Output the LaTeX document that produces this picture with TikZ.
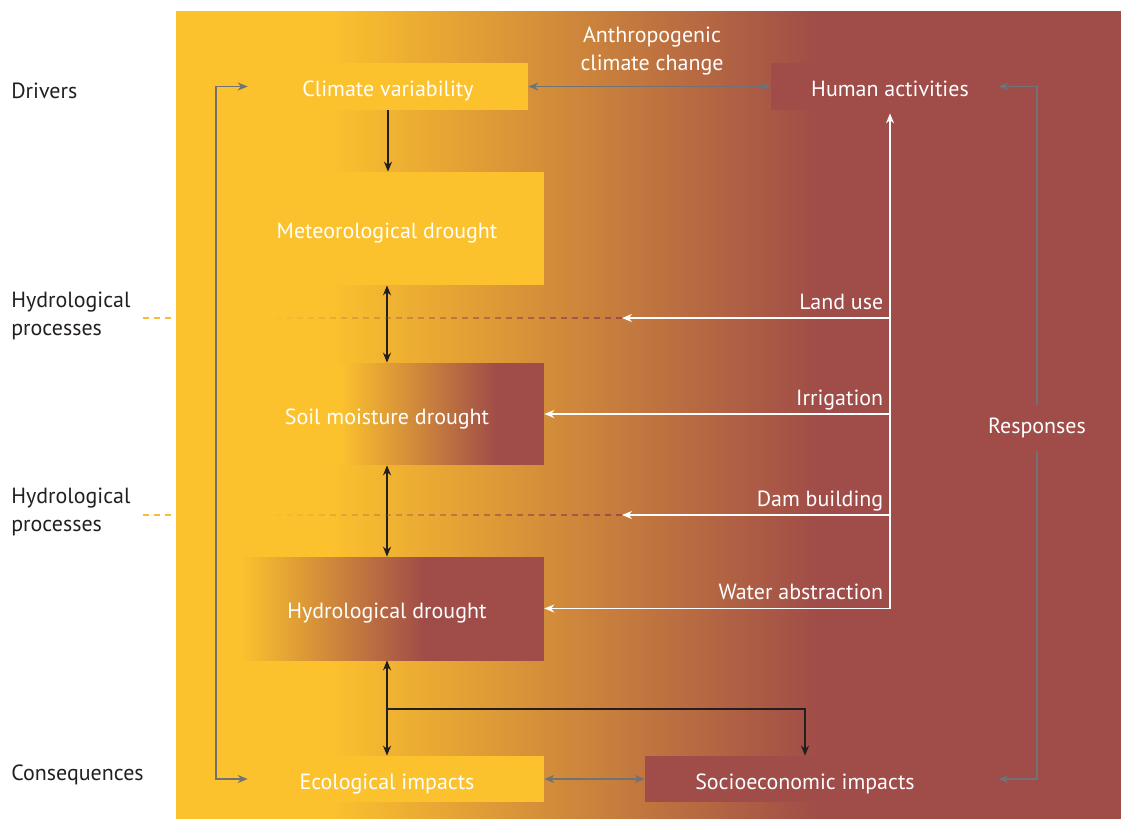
\documentclass[tikz,border=0pt]{standalone}
\usepackage{fontspec}
\setmainfont{PT Sans}
\usetikzlibrary{arrows.meta,calc,fadings}

\definecolor{dyel}{RGB}{252,194,46}
\definecolor{dred}{RGB}{160,76,72}
\definecolor{lgray}{RGB}{112,114,118}
\definecolor{dblack}{RGB}{35,31,32}
\definecolor{oline}{RGB}{250,188,56}

\pgfdeclarehorizontalshading{bgshade}{100bp}{color(0bp)=(dyel); color(33bp)=(dyel); color(59bp)=(dred); color(100bp)=(dred)}
\pgfdeclarehorizontalshading{soilshade}{100bp}{color(0bp)=(dyel); color(42.5bp)=(dyel); color(67.5bp)=(dred); color(100bp)=(dred)}
\pgfdeclarehorizontalshading{hydroshade}{100bp}{color(0bp)=(dyel); color(26.6bp)=(dyel); color(56bp)=(dred); color(100bp)=(dred)}
\tikzfading[name=fadein, left color=transparent!100, right color=transparent!0]

\newcommand\lblfont{\fontsize{12.5}{15}\selectfont}

\begin{document}
\begin{tikzpicture}[x=0.02cm, y=-0.02cm, >={Stealth[length=0.2cm,width=0.16cm]},
    font=\lblfont,
    box/.style={minimum height=0.94cm, text=white, inner sep=0pt, text height=0.4cm, text depth=0cm},
    blk/.style={draw=dblack, line width=1.1pt},
    gry/.style={draw=lgray, line width=0.9pt},
    wht/.style={draw=white, line width=0.9pt},
    tag/.style={anchor=base east, text=white, inner sep=0pt, xshift=-0.12cm, yshift=0.18cm},
    side/.style={anchor=west, text=dblack, inner sep=0pt, align=left, font=\fontsize{12.5}{16}\selectfont},
    ddash/.style={draw=dred, line width=0.9pt, dash pattern=on 0.12cm off 0.1cm, path fading=fadein},
    odash/.style={draw=oline, line width=0.9pt, dash pattern=on 0.12cm off 0.1cm}]
    \useasboundingbox (0,0) rectangle (1121,818);
    % background band
    \shade[shading=bgshade] (176,11) rectangle (1121,818);

    % side labels
    \node[side] (drv) at (11,91) {Drivers};
    \node[side] (hp1) at (11,316) {Hydrological\\processes};
    \node[side] (hp2) at (11,512) {Hydrological\\processes};
    \node[side] (csq) at (11,775) {Consequences};
    \draw[odash] (143,318) -- (176,318);
    \draw[odash] (143,515) -- (176,515);

    % boxes
    \node[box, fill=dyel, minimum width=5.6cm] (climate) at (388,86.5) {Climate variability};
    \node[box, fill=dyel, minimum width=6.28cm, minimum height=2.26cm] (meteo) at (387,228.5) {Meteorological drought};
    \node[box, shade, shading=soilshade, minimum width=6.28cm, minimum height=2.04cm] (soil) at (387,414) {Soil moisture drought};
    \node[box, shade, shading=hydroshade, minimum width=6.28cm, minimum height=2.06cm] (hydro) at (387,608.5) {Hydrological drought};
    \node[box, fill=dyel, minimum width=6.28cm, minimum height=0.92cm] (eco) at (387,779) {Ecological impacts};
    \node[box, fill=dred, minimum width=4.76cm] (human) at (890,86.5) {Human activities};
    \node[box, fill=dred, minimum width=6.4cm, minimum height=0.92cm] (socio) at (805,779) {Socioeconomic impacts};
    \node[text=white, align=center, inner sep=0pt, font=\fontsize{12.5}{15.4}\selectfont] (acc) at (652,51) {Anthropogenic\\climate change};
    \node[text=white, inner sep=0pt, minimum height=0.9cm] (resp) at (1037,428) {Responses};

    % drought chain
    \draw[blk,->] (climate.south) -- (climate.south |- meteo.north);
    \draw[blk,<->] (meteo.south -| soil.north) -- (soil.north);
    \draw[blk,<->] (soil.south) -- (hydro.north);
    \draw[blk,<->] (hydro.south) -- (eco.north);
    \coordinate (split) at (387,709);
    \draw[blk,->] (split) -| (socio.north);

    % grey feedbacks
    \draw[gry,<->] (climate.east) -- (human.west);
    \draw[gry,<->] (eco.east) -- (socio.west);
    \coordinate (loopL) at (216,400);
    \draw[gry,<->] (climate.west) -| (loopL) |- ([xshift=0.36cm]eco.west);
    \draw[gry,->] (resp.north) |- ([xshift=-0.22cm]human.east);
    \draw[gry,->] (resp.south) |- ([xshift=0.66cm]socio.east);

    % human influences
    \coordinate (lu) at (622,318);
    \coordinate (db) at (622,515);
    \draw[wht,->] (hydro.east -| human.south) -- ([yshift=-0.06cm]human.south);
    \draw[wht,->] (lu -| human.south) -- node[tag, pos=0] {Land use} (lu);
    \draw[wht,->] (soil.east -| human.south) -- node[tag, pos=0] {Irrigation} (soil.east);
    \draw[wht,->] (db -| human.south) -- node[tag, pos=0] {Dam building} (db);
    \draw[wht,->] (hydro.east -| human.south) -- node[tag, pos=0] {Water abstraction} (hydro.east);
    \draw[ddash] (lu) -- (268,318);
    \draw[ddash] (db) -- (268,515);
\end{tikzpicture}
\end{document}
